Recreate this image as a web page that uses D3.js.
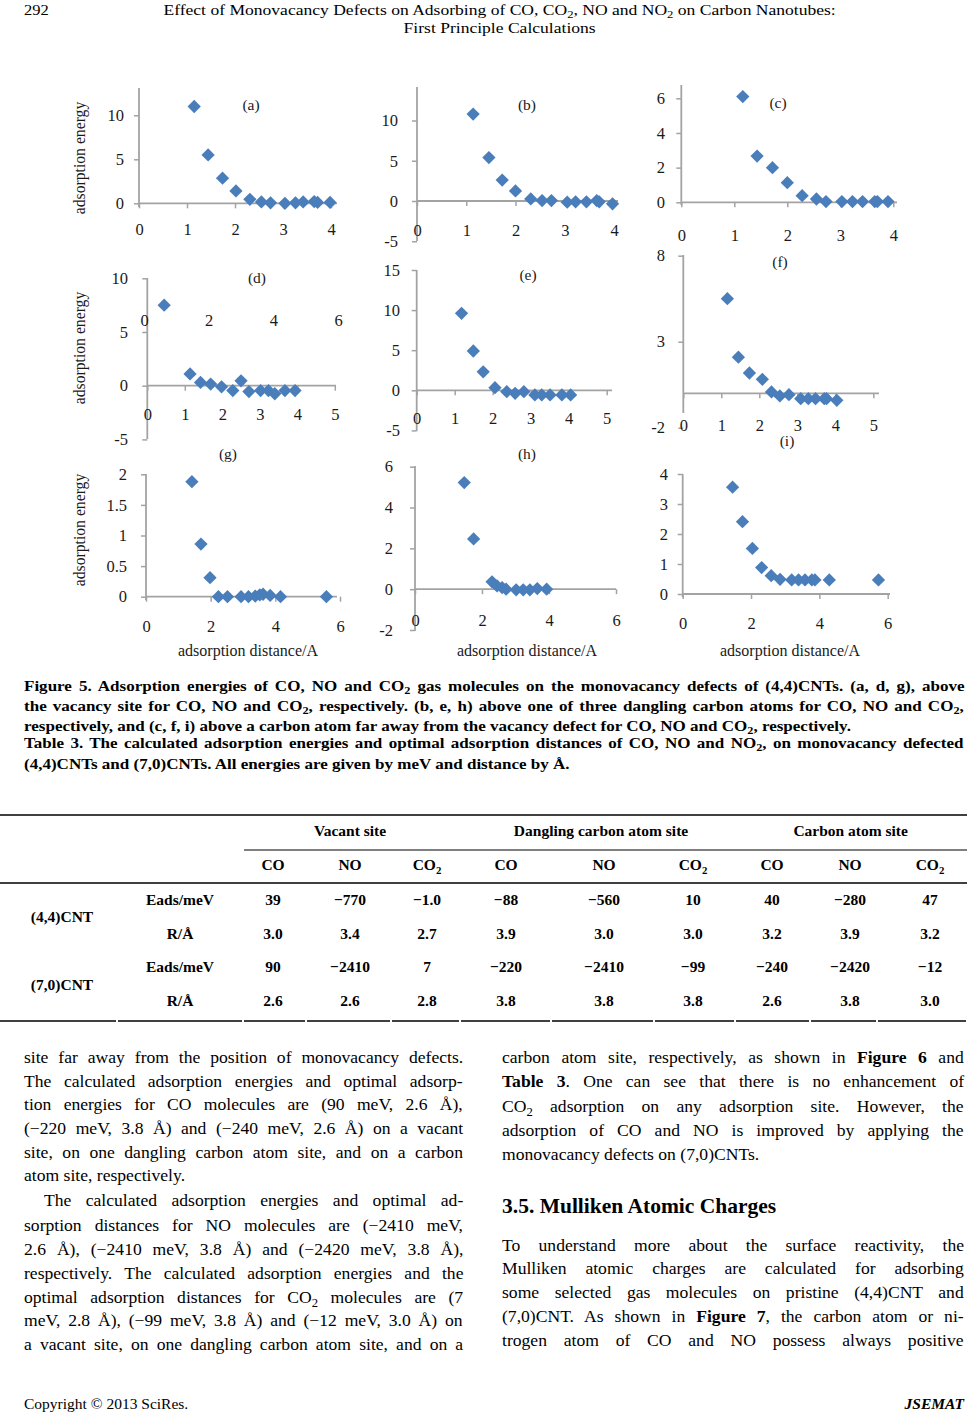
<!DOCTYPE html>
<html><head><meta charset="utf-8">
<script src="https://cdn.jsdelivr.net/npm/d3@7"></script>
<style>
body{margin:0;background:#fff;}
#page{position:relative;width:967px;height:1414px;overflow:hidden;font-family:"Liberation Serif","Times New Roman",serif;color:#000;background:#fff;}
#page svg{position:absolute;left:0;top:0;}
.ln{position:absolute;overflow:visible;white-space:nowrap;}
.l{text-align:left;}
.j{text-align:left;}
.c{text-align:center;}
.r{text-align:right;}
sub{font-size:0.72em;vertical-align:-0.28em;line-height:0;}
</style></head><body><div id="page"></div>
<script>
// ================= DATA =================
// Figure 5 panels: adsorption distance (Å) and adsorption energy
const distA = [1.15,1.44,1.74,2.02,2.31,2.55,2.74,3.04,3.26,3.42,3.65,3.72,3.98];
const energyA = [11.0,5.5,2.85,1.4,0.45,0.15,0.05,0.0,0.05,0.15,0.2,0.1,0.1];
const distB = [1.14,1.46,1.73,2.0,2.31,2.54,2.73,3.05,3.22,3.44,3.65,3.7,3.97];
const energyB = [10.8,5.4,2.6,1.25,0.25,0.05,0.05,-0.15,-0.1,-0.1,0.05,-0.1,-0.35];
const distC = [1.16,1.43,1.72,2.0,2.28,2.55,2.73,3.03,3.23,3.42,3.65,3.7,3.9];
const energyC = [6.1,2.67,2.0,1.13,0.38,0.19,0.04,0.04,0.04,0.04,0.04,0.04,0.04];
const distD = [0.45,1.14,1.42,1.69,1.98,2.28,2.5,2.71,3.02,3.23,3.4,3.67,3.94];
const energyD = [7.5,1.1,0.3,0.15,-0.1,-0.45,0.45,-0.55,-0.45,-0.45,-0.75,-0.45,-0.45];
const distE = [1.18,1.49,1.75,2.06,2.37,2.59,2.82,3.11,3.29,3.51,3.82,4.05];
const energyE = [9.6,4.9,2.3,0.33,-0.17,-0.37,-0.17,-0.58,-0.58,-0.58,-0.58,-0.58];
const distF = [1.16,1.45,1.74,2.08,2.32,2.54,2.78,3.09,3.29,3.48,3.71,3.77,4.04];
const energyF = [5.5,2.1,1.18,0.81,0.08,-0.15,-0.08,-0.31,-0.31,-0.31,-0.31,-0.31,-0.41];
const distG = [1.42,1.7,1.98,2.24,2.52,2.94,3.17,3.38,3.52,3.62,3.84,4.16,5.58];
const energyG = [1.88,0.86,0.31,0,0,0,0,0.01,0.03,0.04,0.02,0,0];
const distH = [1.47,1.75,2.3,2.45,2.6,2.72,3.02,3.23,3.43,3.65,3.93];
const energyH = [5.22,2.46,0.36,0.16,0.08,0.0,-0.03,-0.03,-0.03,0.03,0.0];
const distI = [1.46,1.75,2.04,2.31,2.59,2.85,3.19,3.39,3.58,3.78,3.87,4.29,5.73];
const energyI = [3.56,2.41,1.52,0.88,0.61,0.49,0.47,0.47,0.47,0.47,0.47,0.47,0.47];

// tick labels
const xTicks4 = [0,1,2,3,4];
const xTicks5 = [0,1,2,3,4,5];
const xTicks6 = [0,2,4,6];
const yTicksA = [0,5,10];
const yTicksB = [-5,0,5,10];
const yTicksC = [0,2,4,6];
const yTicksD = [-5,0,5,10];
const yTicksE = [-5,0,5,10,15];
const yTicksF = [-2,3,8];
const yTicksG = [0,0.5,1,1.5,2];
const yTicksH = [-2,0,2,4,6];
const yTicksI = [0,1,2,3,4];
const panelLabels = ["(a)","(b)","(c)","(d)","(e)","(f)","(g)","(h)","(i)"];
const yTitle = "adsorption energy";
const xTitle = "adsorption distance/A";

// Table 3
const siteGroups = ["Vacant site","Dangling carbon atom site","Carbon atom site"];
const gases = ["CO","NO","CO2","CO","NO","CO2","CO","NO","CO2"];
const tubes = ["(4,4)CNT","(7,0)CNT"];
const quantities = ["Eads/meV","R/Å"];
const eads44 = ["39","−770","−1.0","−88","−560","10","40","−280","47"];
const dist44 = ["3.0","3.4","2.7","3.9","3.0","3.0","3.2","3.9","3.2"];
const eads70 = ["90","−2410","7","−220","−2410","−99","−240","−2420","−12"];
const dist70 = ["2.6","2.6","2.8","3.8","3.8","3.8","2.6","3.8","3.0"];

// ================= DRAW =================
const page = d3.select('#page');
const svg = page.append('svg').attr('width',967).attr('height',1414);
const AXIS = '#a3a3a3', MARK = '#4a7ebb', TXT = '#1a1a1a';
const FONT = '"Liberation Serif","Times New Roman",serif';

const layouts = [
 {xs:distA,ys:energyA,xd:[0,4],xr:[139,331],xEnd:337,xt:xTicks4,xLabY:229,yd:[0,10],yr:[203.3,115.3],yTop:88,yBot:207,yt:yTicksA,yLabR:124,lx:251,ly:105},
 {xs:distB,ys:energyB,xd:[0,4],xr:[417,614],xEnd:618,xt:xTicks4,xLabY:230,yd:[0,10],yr:[201,120.5],yTop:87,yBot:241,yt:yTicksB,yLabR:398,lx:527,ly:105},
 {xs:distC,ys:energyC,xd:[0,4],xr:[681.3,893.3],xEnd:897,xt:xTicks4,xLabY:235,yd:[0,6],yr:[202.3,98.3],yTop:85,yBot:205,yt:yTicksC,yLabR:665,lx:778,ly:103},
 {xs:distD,ys:energyD,xd:[0,5],xr:[147.3,334.8],xEnd:336,xt:xTicks5,xLabY:414,yd:[0,10],yr:[385.7,278.3],yTop:278,yBot:439,yt:yTicksD,yLabR:128,lx:257,ly:278,topTicks:true},
 {xs:distE,ys:energyE,xd:[0,5],xr:[416.7,606.7],xEnd:612,xt:xTicks5,xLabY:418,yd:[0,15],yr:[390.3,270],yTop:270,yBot:431,yt:yTicksE,yLabR:400,lx:528,ly:275},
 {xs:distF,ys:energyF,xd:[0,5],xr:[683.3,873.3],xEnd:879,xt:xTicks5,xLabY:425,yd:[-2,8],yr:[427.7,255.7],yTop:255,yBot:413,yt:yTicksF,yLabR:665,lx:780,ly:262},
 {xs:distG,ys:energyG,xd:[0,6],xr:[146,340],xEnd:337,xt:xTicks6,xLabY:626,yd:[0,2],yr:[596.7,474.3],yTop:474,yBot:600,yt:yTicksG,yLabR:127,lx:228,ly:454},
 {xs:distH,ys:energyH,xd:[0,6],xr:[415,616],xEnd:616,xt:xTicks6,xLabY:620,yd:[-2,6],yr:[630,466.7],yTop:466,yBot:631,yt:yTicksH,yLabR:393,lx:527,ly:454},
 {xs:distI,ys:energyI,xd:[0,6],xr:[682.7,887.7],xEnd:890,xt:xTicks6,xLabY:623,yd:[0,4],yr:[594,474],yTop:474,yBot:597,yt:yTicksI,yLabR:668,lx:787,ly:441}
];

const diamond = d3.symbol(d3.symbolSquare, 88);
layouts.forEach((p,i)=>{
  const x = d3.scaleLinear().domain(p.xd).range(p.xr);
  const y = d3.scaleLinear().domain(p.yd).range(p.yr);
  const g = svg.append('g');
  const ax = x(0), ay = y(0);
  const yAxis = d3.axisLeft(y).tickValues(p.yt).tickSize(5)
      .tickPadding(ax-5-p.yLabR).tickFormat(d=>String(d));
  const ga = g.append('g').attr('transform',`translate(${ax},0)`).call(yAxis);
  ga.select('.domain').remove();
  ga.selectAll('line').attr('stroke',AXIS).attr('stroke-width',1.5);
  ga.selectAll('text').attr('font-family',FONT).attr('font-size',16.5).attr('fill',TXT);
  g.append('line').attr('x1',ax).attr('x2',ax).attr('y1',p.yTop).attr('y2',p.yBot)
    .attr('stroke',AXIS).attr('stroke-width',1.8);
  const xAxis = d3.axisBottom(x).tickValues(p.xt).tickSize(5).tickFormat(d=>String(d));
  const gx = g.append('g').attr('transform',`translate(0,${ay})`).call(xAxis);
  gx.select('.domain').remove();
  gx.selectAll('line').attr('stroke',AXIS).attr('stroke-width',1.5);
  gx.selectAll('text').attr('y',p.xLabY-ay).attr('dy','0.35em')
    .attr('font-family',FONT).attr('font-size',16.5).attr('fill',TXT);
  g.append('line').attr('x1',ax).attr('x2',p.xEnd).attr('y1',ay).attr('y2',ay)
    .attr('stroke',AXIS).attr('stroke-width',1.8);
  if(p.topTicks){
    const x2 = d3.scaleLinear().domain([0,6]).range([144,338]);
    const gt = g.append('g').attr('transform','translate(0,320)')
      .call(d3.axisBottom(x2).tickValues(xTicks6).tickSize(0).tickFormat(d=>String(d)));
    gt.select('.domain').remove();
    gt.selectAll('text').attr('y',0).attr('dy','0.35em')
      .attr('font-family',FONT).attr('font-size',16.5).attr('fill',TXT);
  }
  g.selectAll('path.pt').data(d3.zip(p.xs,p.ys)).join('path').attr('class','pt')
    .attr('d',diamond)
    .attr('transform',d=>`translate(${x(d[0])},${y(d[1])}) rotate(45)`)
    .attr('fill',MARK);
  g.append('text').attr('x',p.lx).attr('y',p.ly).attr('dy','0.35em')
    .attr('text-anchor','middle').attr('font-family',FONT).attr('font-size',15.5)
    .attr('fill',TXT).text(panelLabels[i]);
});
[158,348,530].forEach(cy=>{
  svg.append('text').attr('transform',`translate(79,${cy}) rotate(-90)`).attr('dy','0.35em')
    .attr('text-anchor','middle').attr('font-family',FONT).attr('font-size',15.7)
    .attr('fill',TXT).text(yTitle);
});
[248,527,790].forEach(cx=>{
  svg.append('text').attr('x',cx).attr('y',650).attr('dy','0.35em')
    .attr('text-anchor','middle').attr('font-family',FONT).attr('font-size',16)
    .attr('fill',TXT).text(xTitle);
});

// ================= TABLE =================
const colX = [273,350,427,506,604,693,772,850,930];
const groupCols = [[0,1,2],[3,4,5],[6,7,8]];
const TFS = 15.5;
const tg = svg.append('g').attr('font-family',FONT).attr('font-size',TFS)
  .attr('font-weight','bold').attr('fill','#000').attr('text-anchor','middle');
function tText(x,y,s){
  const t = tg.append('text').attr('x',x).attr('y',y).attr('dy','0.35em');
  if(/^[A-Z]+2$/.test(s)){
    t.append('tspan').text(s.slice(0,-1));
    t.append('tspan').attr('font-size',TFS*0.7).attr('dy','0.3em').text('2');
  } else t.text(s);
  return t;
}
siteGroups.forEach((s,i)=>tText(d3.mean(groupCols[i],c=>colX[c]),831,s));
gases.forEach((s,i)=>tText(colX[i],865,s));
const rowsY = [900,934,967,1001];
const rowsData = [eads44,dist44,eads70,dist70];
rowsData.forEach((row,r)=>{
  tText(180,rowsY[r],quantities[r%2]);
  row.forEach((v,c)=>tText(colX[c],rowsY[r],v));
});
tubes.forEach((t,i)=>tText(62,[917,985][i],t));
const rule=(x1,x2,y,w)=>svg.append('line').attr('x1',x1).attr('x2',x2).attr('y1',y).attr('y2',y)
  .attr('stroke','#000').attr('stroke-width',w);
rule(0,967,815,1.6);
rule(244,967,850,1);
rule(0,967,883,1.6);
const bounds=[0,117,243,306,391,460,551,654,735,810,877,967];
for(let k=0;k<bounds.length-1;k++) rule(bounds[k]+(k?1:0),bounds[k+1]-1,1021,1.6);

// ================= TEXT =================
// one typeset line; sx = horizontal stretch of the glyphs
function line(html,left,width,cy,fs,cls,extra,sx){
  sx = sx||1;
  const lh = Math.round(fs*1.05);
  const w0 = width/sx;
  const origin = cls==='c'?'center':(cls==='r'?'right':'left');
  const div = page.append('div').attr('class','ln '+cls)
    .attr('style',`left:${left+(cls==='c'?(width-w0)/2:(cls==='r'?width-w0:0))}px;top:${cy-lh/2}px;width:${w0}px;height:${lh}px;line-height:${lh}px;font-size:${fs}px;transform:scaleX(${sx});transform-origin:${origin} center;${extra||''}`);
  const span = div.append('span').html(html);
  if(cls==='j'){
    const w = span.node().offsetWidth;
    const n = (span.node().textContent.match(/ /g)||[]).length;
    if(n) span.style('word-spacing',((w0-w)/n)+'px');
  }
}
line('292',24,60,10,15,'l','',1.1);
line('Effect of Monovacancy Defects on Adsorbing of CO, CO<sub>2</sub>, NO and NO<sub>2</sub> on Carbon Nanotubes:',50,900,10,15,'c','',1.17);
line('First Principle Calculations',50,900,28,15,'c','',1.17);

const capLines = [
 ['Figure 5. Adsorption energies of CO, NO and CO<sub>2</sub> gas molecules on the monovacancy defects of (4,4)CNTs. (a, d, g), above','j',686],
 ['the vacancy site for CO, NO and CO<sub>2</sub>, respectively. (b, e, h) above one of three dangling carbon atoms for CO, NO and CO<sub>2</sub>,','j',706],
 ['respectively, and (c, f, i) above a carbon atom far away from the vacancy defect for CO, NO and CO<sub>2</sub>, respectively.','l',726],
 ['Table 3. The calculated adsorption energies and optimal adsorption distances of CO, NO and NO<sub>2</sub>, on monovacancy defected','j',743],
 ['(4,4)CNTs and (7,0)CNTs. All energies are given by meV and distance by Å.','l',764]
];
capLines.forEach(c=>line(c[0],24,940,c[2],14.8,c[1],'font-weight:bold;',1.15));

const leftLines = [
 ['site far away from the position of monovacancy defects.','j',1057],
 ['The calculated adsorption energies and optimal adsorp-','j',1081],
 ['tion energies for CO molecules are (90 meV, 2.6 Å),','j',1104],
 ['(−220 meV, 3.8 Å) and (−240 meV, 2.6 Å) on a vacant','j',1128],
 ['site, on one dangling carbon atom site, and on a carbon','j',1152],
 ['atom site, respectively.','l',1175],
 ['The calculated adsorption energies and optimal ad-','j',1200,20],
 ['sorption distances for NO molecules are (−2410 meV,','j',1225],
 ['2.6 Å), (−2410 meV, 3.8 Å) and (−2420 meV, 3.8 Å),','j',1249],
 ['respectively. The calculated adsorption energies and the','j',1273],
 ['optimal adsorption distances for CO<sub>2</sub> molecules are (7','j',1297],
 ['meV, 2.8 Å), (−99 meV, 3.8 Å) and (−12 meV, 3.0 Å) on','j',1320],
 ['a vacant site, on one dangling carbon atom site, and on a','j',1344]
];
leftLines.forEach(c=>{const ind=c[3]||0; line(c[0],24+ind,439-ind,c[2],17.6,c[1]);});
const rightLines = [
 ['carbon atom site, respectively, as shown in <b>Figure 6</b> and','j',1057],
 ['<b>Table 3</b>. One can see that there is no enhancement of','j',1081],
 ['CO<sub>2</sub> adsorption on any adsorption site. However, the','j',1106],
 ['adsorption of CO and NO is improved by applying the','j',1130],
 ['monovacancy defects on (7,0)CNTs.','l',1154],
 ['To understand more about the surface reactivity, the','j',1245],
 ['Mulliken atomic charges are calculated for adsorbing','j',1268],
 ['some selected gas molecules on pristine (4,4)CNT and','j',1292],
 ['(7,0)CNT. As shown in <b>Figure 7</b>, the carbon atom or ni-','j',1316],
 ['trogen atom of CO and NO possess always positive','j',1340]
];
rightLines.forEach(c=>line(c[0],502,462,c[2],17.6,c[1]));
line('3.5. Mulliken Atomic Charges',502,462,1206,21.5,'l','font-weight:bold;');

line('Copyright © 2013 SciRes.',24,300,1404,15.5,'l');
line('JSEMAT',664,300,1404,15.5,'r','font-weight:bold;font-style:italic;');
</script></body></html>
